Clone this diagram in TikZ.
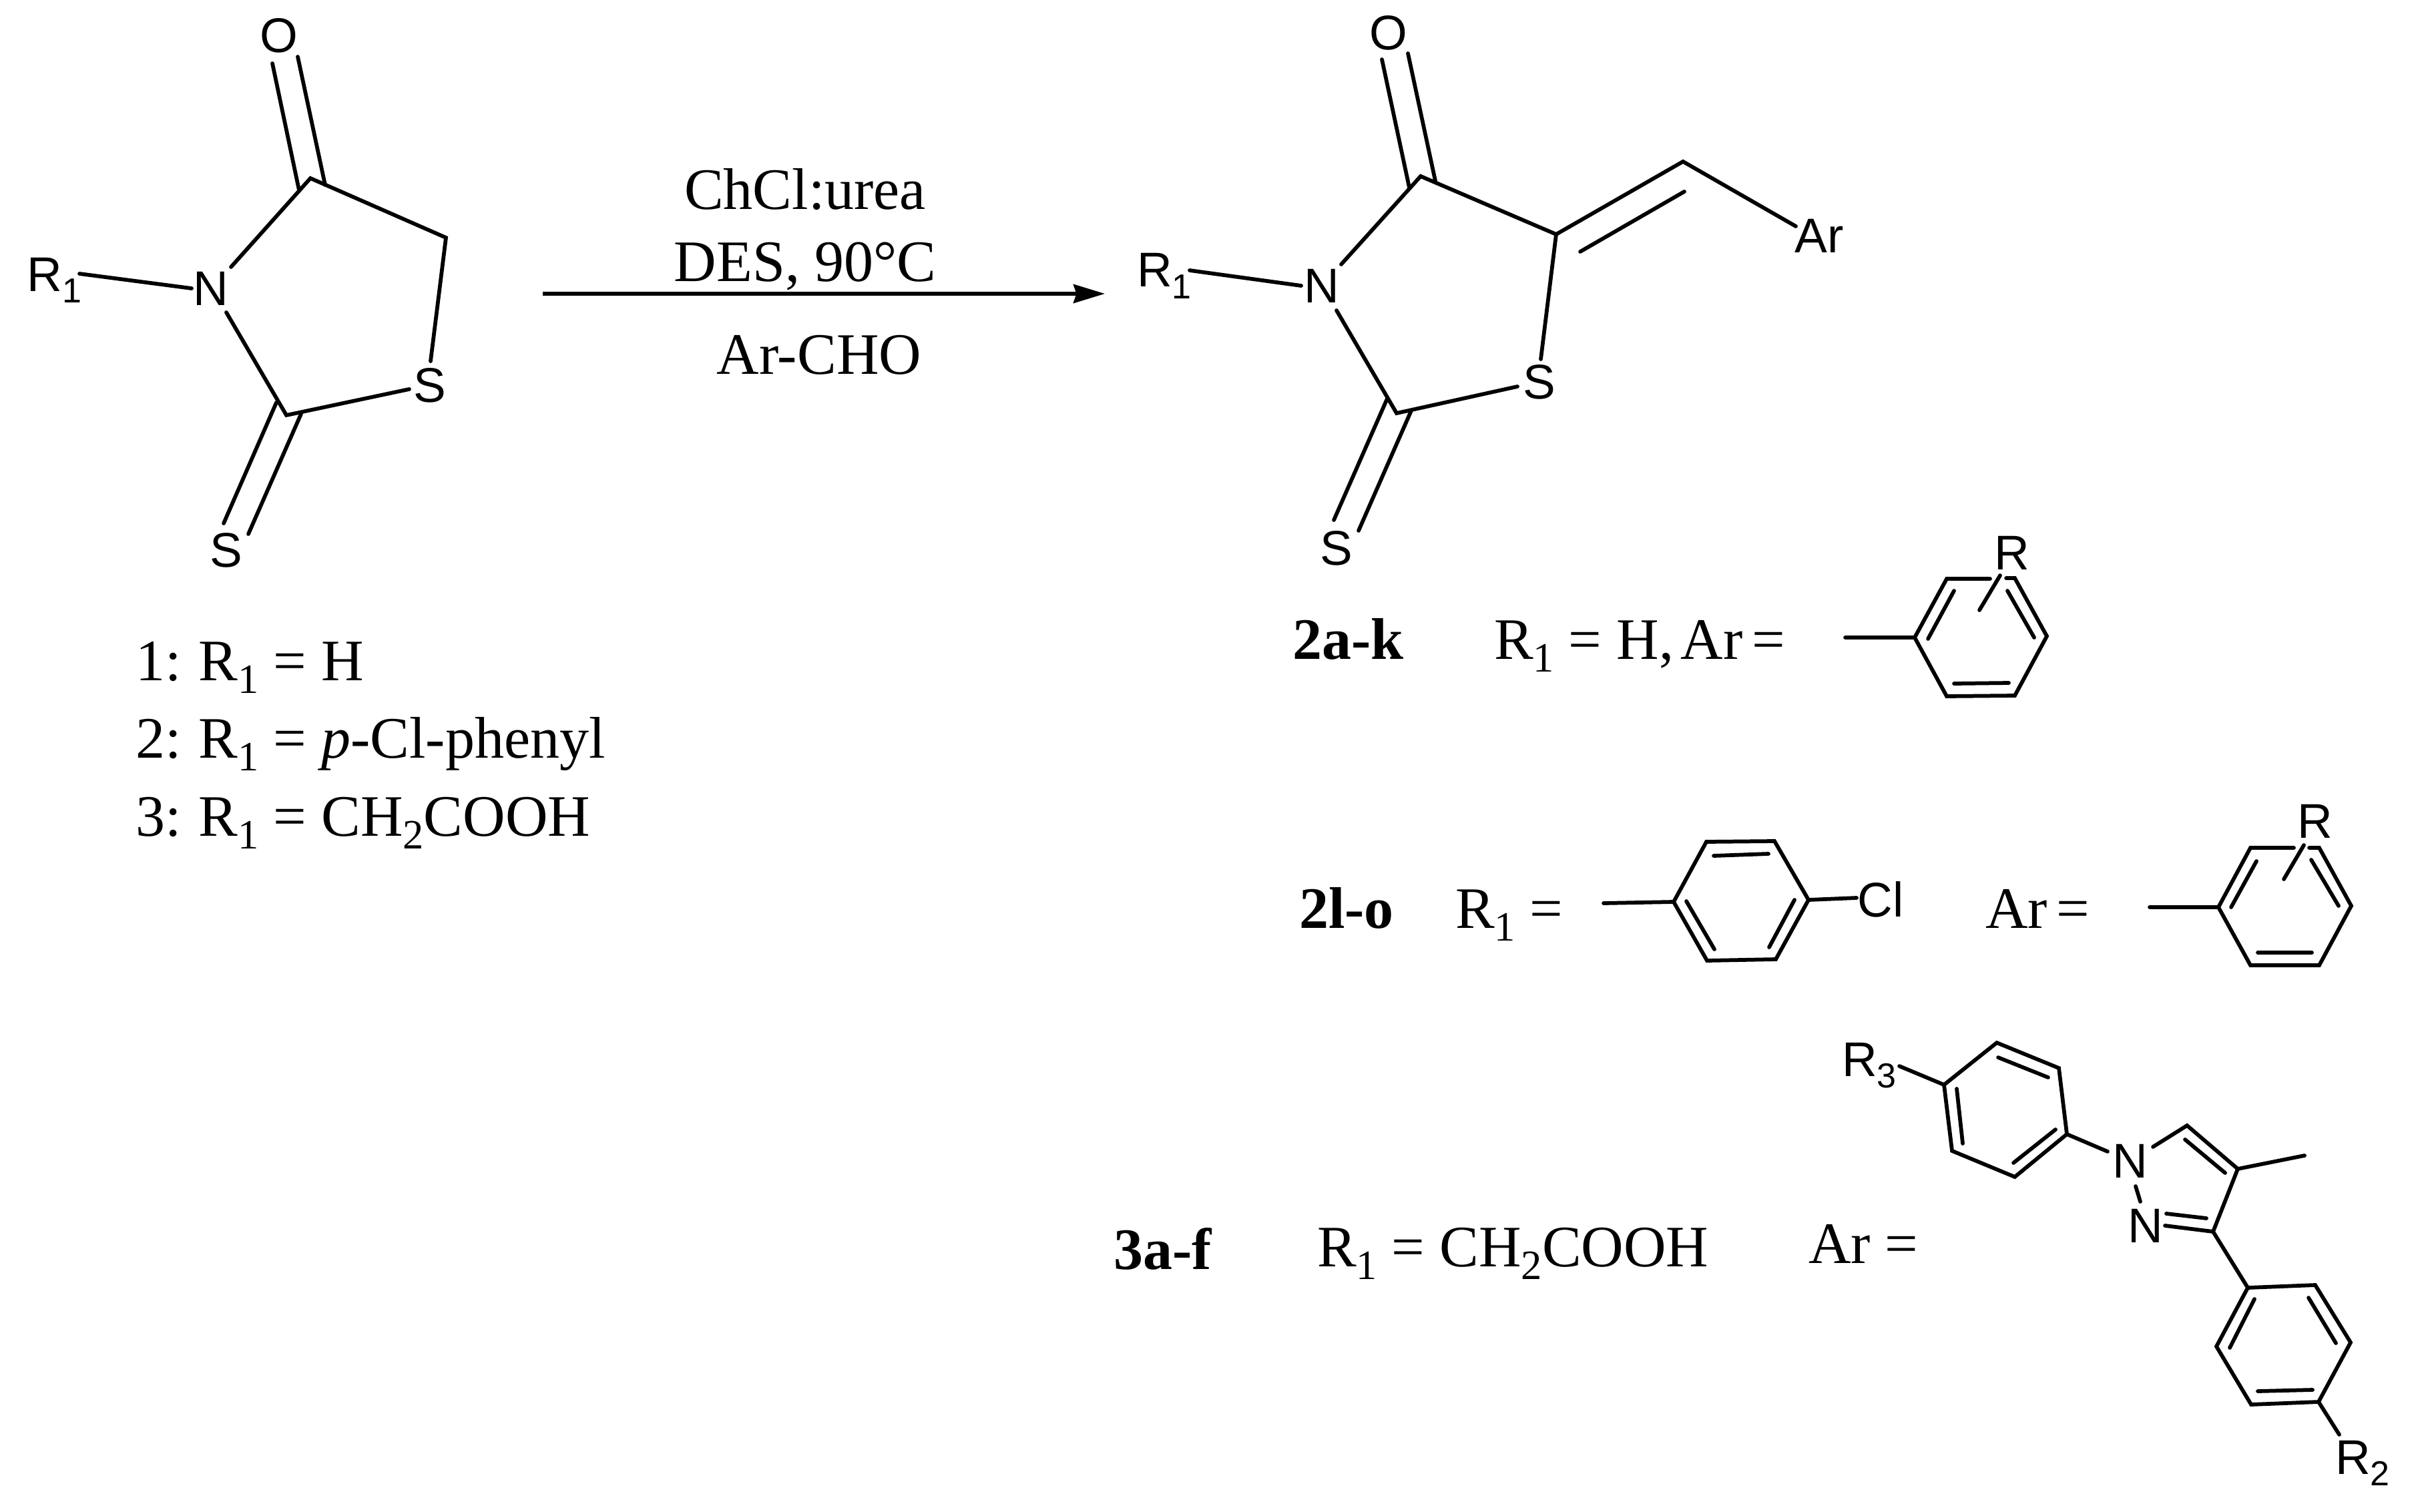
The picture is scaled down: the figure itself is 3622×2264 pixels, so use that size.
\documentclass[tikz,border=0pt]{standalone}
\usepackage{fontspec}
\setmainfont{Liberation Serif}
\newfontfamily\chemfont{Liberation Sans}
\usetikzlibrary{arrows.meta}
\newcommand{\sbs}[1]{\raisebox{-0.22em}{\fontsize{12.5}{12.5}\selectfont #1}}
\newcommand{\chs}[1]{\raisebox{-0.24em}{\fontsize{10.4}{10.4}\selectfont #1}}
\tikzset{
  bond/.style={draw=black,line width=1.15pt,line cap=round,line join=miter},
  wide/.style={inner sep=0pt,outer sep=0pt,font=\fontsize{17.6}{17.6}\selectfont,anchor=base west,text=black},
  mid/.style={wide,anchor=base},
  atom/.style={inner sep=0pt,outer sep=0pt,font=\chemfont\fontsize{14.6}{14.6}\selectfont,text=black},
}
\begin{document}
\begin{tikzpicture}[x=0.2pt,y=-0.2pt]
\useasboundingbox (0,0) rectangle (3622,2264);
% ---- coordinates
\foreach \n/\x/\y in {
 % compound 1
 aC4/465/267, aCH/668/356, aC2/429/622, aNe/346/400, aNs/339/468, aSa/645/541, aSb/613/583,
 aRe/119/410, aNw/287/432, aOa/408/95, aOb/448/285, aOc/446/85, aOd/487/277,
 aXa/414/603, aXb/335/784, aXc/451/620, aXd/372/800,
 % product
 bC4/2128/264, bC5/2331/351, bCH/2521/242, bAr/2690/339, bIa/2367/377, bIb/2523/287,
 bSa/2308/538, bSb/2273/579, bC2/2092/619, bNs/2002/465, bNe/2009/396, bRe/1782/405, bNw/1949/428,
 bOa/2070/89, bOb/2111/281, bOc/2109/80, bOd/2150/271,
 bXa/2078/597, bXb/1998/779, bXc/2114/615, bXd/2035/795,
 % arrow
 arS/813/440, arE/1655/440,
 % phenyl 1
 cL/2868/955, cTL/2916/867, cTR/3018/866, cR/3066/953, cBR/3018/1042, cBL/2916/1043, cSt/2764/955,
 cIa/2927/885, cIb/2888/957, cIc/3007/885, cId/3047/955, cIe/3009/1023, cIf/2927/1024,
 cGa/2981/867, cGb/3005/866, cRa/2996/862, cRb/2965/914,
 % chlorophenyl
 dL/2507/1351, dTL/2556/1261, dTR/2658/1260, dR/2709/1348, dBR/2660/1437, dBL/2557/1439, dSt/2402/1353, dCl/2781/1345,
 dIa/2567/1282, dIb/2649/1279, dIc/2688/1348, dId/2650/1419, dIe/2526/1350, dIf/2568/1422,
 % phenyl 2
 eL/3323/1359, eTL/3371/1270, eTR/3474/1270, eR/3522/1357, eBR/3474/1446, eBL/3371/1446, eSt/3220/1359,
 eIa/3380/1290, eIb/3342/1359, eIc/3462/1288, eId/3503/1357, eIe/3463/1427, eIf/3382/1427,
 eGa/3436/1270, eGb/3459/1270, eRa/3451/1266, eRb/3421/1317,
 % pyrazole and aryls
 fA/2991/1562, fB/3084/1600, fC/3096/1699, fD/3018/1763, fE/2924/1724, fF/2912/1625,
 fIa/2993/1584, fIb/3068/1614, fIc/3079/1692, fId/3016/1742, fIe/2940/1713, fIf/2931/1631,
 fR/2845/1597, fN/3157/1725,
 gNa/3199/1777, gNb/3206/1800, gNc/3225/1718, gC5/3276/1686, gC4/3352/1751, gIa/3273/1707, gIb/3333/1757,
 gMe/3452/1731, gC3/3315/1845, gNd/3243/1836, gIc/3305/1825, gId/3245/1818,
 hA/3367/1929, hB/3468/1925, hC/3521/2011, hD/3473/2100, hE/3372/2104, hF/3320/2017,
 hIa/3458/1944, hIb/3499/2012, hIc/3464/2082, hId/3382/2084, hIe/3340/2019, hIf/3377/1946, hR/3504/2149
}{\coordinate (\n) at (\x,\y);}

% ---- compound 1
\node[atom] (O1) at (418,53) {O};
\node[atom] (N1) at (316,432) {N};
\node[atom] (S1) at (644,577) {S};
\node[atom] (X1) at (339,824) {S};
\node[atom,anchor=base west] (R1a) at (41,436) {R\chs{1}};
\path[bond] (aRe) -- (aNw);
\path[bond] (aNe) -- (aC4) -- (aCH) -- (aSa);
\path[bond] (aSb) -- (aC2) -- (aNs);
\path[bond] (aOa) -- (aOb);
\path[bond] (aOc) -- (aOd);
\path[bond] (aXa) -- (aXb);
\path[bond] (aXc) -- (aXd);

% ---- arrow and conditions
\path[bond,line cap=butt,-{Stealth[length=9.4pt,width=5.6pt,inset=0.9pt]}] (arS) -- (arE);
\node[mid] (c1) at (1206,314) {ChCl:urea};
\node[mid] (c2) at (1206,421) {DES, 90°C};
\node[mid] (c3) at (1227,560) {Ar-CHO};

% ---- product
\node[atom] (O2) at (2080,49) {O};
\node[atom] (N2) at (1980,428) {N};
\node[atom] (S2) at (2306,572) {S};
\node[atom] (X2) at (2002,821) {S};
\node[atom] (Ar2) at (2725,353) {Ar};
\node[atom,anchor=base west] (R1b) at (1703,430) {R\chs{1}};
\path[bond] (bRe) -- (bNw);
\path[bond] (bNe) -- (bC4) -- (bC5) -- (bSa);
\path[bond] (bSb) -- (bC2) -- (bNs);
\path[bond] (bC5) -- (bCH) -- (bAr);
\path[bond] (bIa) -- (bIb);
\path[bond] (bOa) -- (bOb);
\path[bond] (bOc) -- (bOd);
\path[bond] (bXa) -- (bXb);
\path[bond] (bXc) -- (bXd);

% ---- list of starting materials
\node[wide] (l1) at (203,1019) {1:\kern0.3em R\sbs{1} = H};
\node[wide] (l2) at (203,1135) {2:\kern0.3em R\sbs{1} = \textit{p}-Cl-phenyl};
\node[wide] (l3) at (203,1252) {3:\kern0.3em R\sbs{1} = CH\sbs{2}COOH};

% ---- 2a-k
\node[wide] (t1) at (1936,987) {\textbf{2a-k}};
\node[wide] (t2) at (2238,987) {R\sbs{1} = H,\kern0.12em Ar\kern0.16em=};
\path[bond] (cSt) -- (cL) -- (cTL) -- (cGa);
\path[bond] (cGb) -- (cTR) -- (cR) -- (cBR) -- (cBL) -- (cL);
\path[bond] (cIa) -- (cIb);
\path[bond] (cIc) -- (cId);
\path[bond] (cIe) -- (cIf);
\path[bond] (cRa) -- (cRb);
\node[atom] (Ra) at (3014,828) {R};

% ---- 2l-o
\node[wide] (t3) at (1946,1390) {\textbf{2l-o}};
\node[wide] (t4) at (2180,1390) {R\sbs{1} =};
\path[bond] (dSt) -- (dL) -- (dTL) -- (dTR) -- (dR) -- (dBR) -- (dBL) -- (dL);
\path[bond] (dR) -- (dCl);
\path[bond] (dIa) -- (dIb);
\path[bond] (dIc) -- (dId);
\path[bond] (dIe) -- (dIf);
\node[atom] (Cl) at (2817,1347) {Cl};
\node[wide] (t5) at (2974,1390) {Ar\kern0.16em=};
\path[bond] (eSt) -- (eL) -- (eTL) -- (eGa);
\path[bond] (eGb) -- (eTR) -- (eR) -- (eBR) -- (eBL) -- (eL);
\path[bond] (eIa) -- (eIb);
\path[bond] (eIc) -- (eId);
\path[bond] (eIe) -- (eIf);
\path[bond] (eRa) -- (eRb);
\node[atom] (Rb) at (3468,1230) {R};

% ---- 3a-f
\node[wide] (t6) at (1668,1901) {\textbf{3a-f}};
\node[wide] (t7) at (1973,1897) {R\sbs{1} = CH\sbs{2}COOH};
\node[wide] (t8) at (2709,1892) {Ar =};
\path[bond] (fA) -- (fB) -- (fC) -- (fD) -- (fE) -- (fF) -- cycle;
\path[bond] (fIa) -- (fIb);
\path[bond] (fIc) -- (fId);
\path[bond] (fIe) -- (fIf);
\path[bond] (fR) -- (fF);
\path[bond] (fC) -- (fN);
\path[bond] (gNa) -- (gNb);
\path[bond] (gNc) -- (gC5) -- (gC4) -- (gC3) -- (gNd);
\path[bond] (gIa) -- (gIb);
\path[bond] (gC4) -- (gMe);
\path[bond] (gIc) -- (gId);
\path[bond] (gC3) -- (hA);
\path[bond] (hA) -- (hB) -- (hC) -- (hD) -- (hE) -- (hF) -- cycle;
\path[bond] (hIa) -- (hIb);
\path[bond] (hIc) -- (hId);
\path[bond] (hIe) -- (hIf);
\path[bond] (hD) -- (hR);
\node[atom] (Na) at (3191,1739) {N};
\node[atom] (Nb) at (3214,1836) {N};
\node[atom,anchor=base west] (R3) at (2759,1612) {R\chs{3}};
\node[atom,anchor=base west] (R2) at (3498,2208) {R\chs{2}};
\end{tikzpicture}
\end{document}
